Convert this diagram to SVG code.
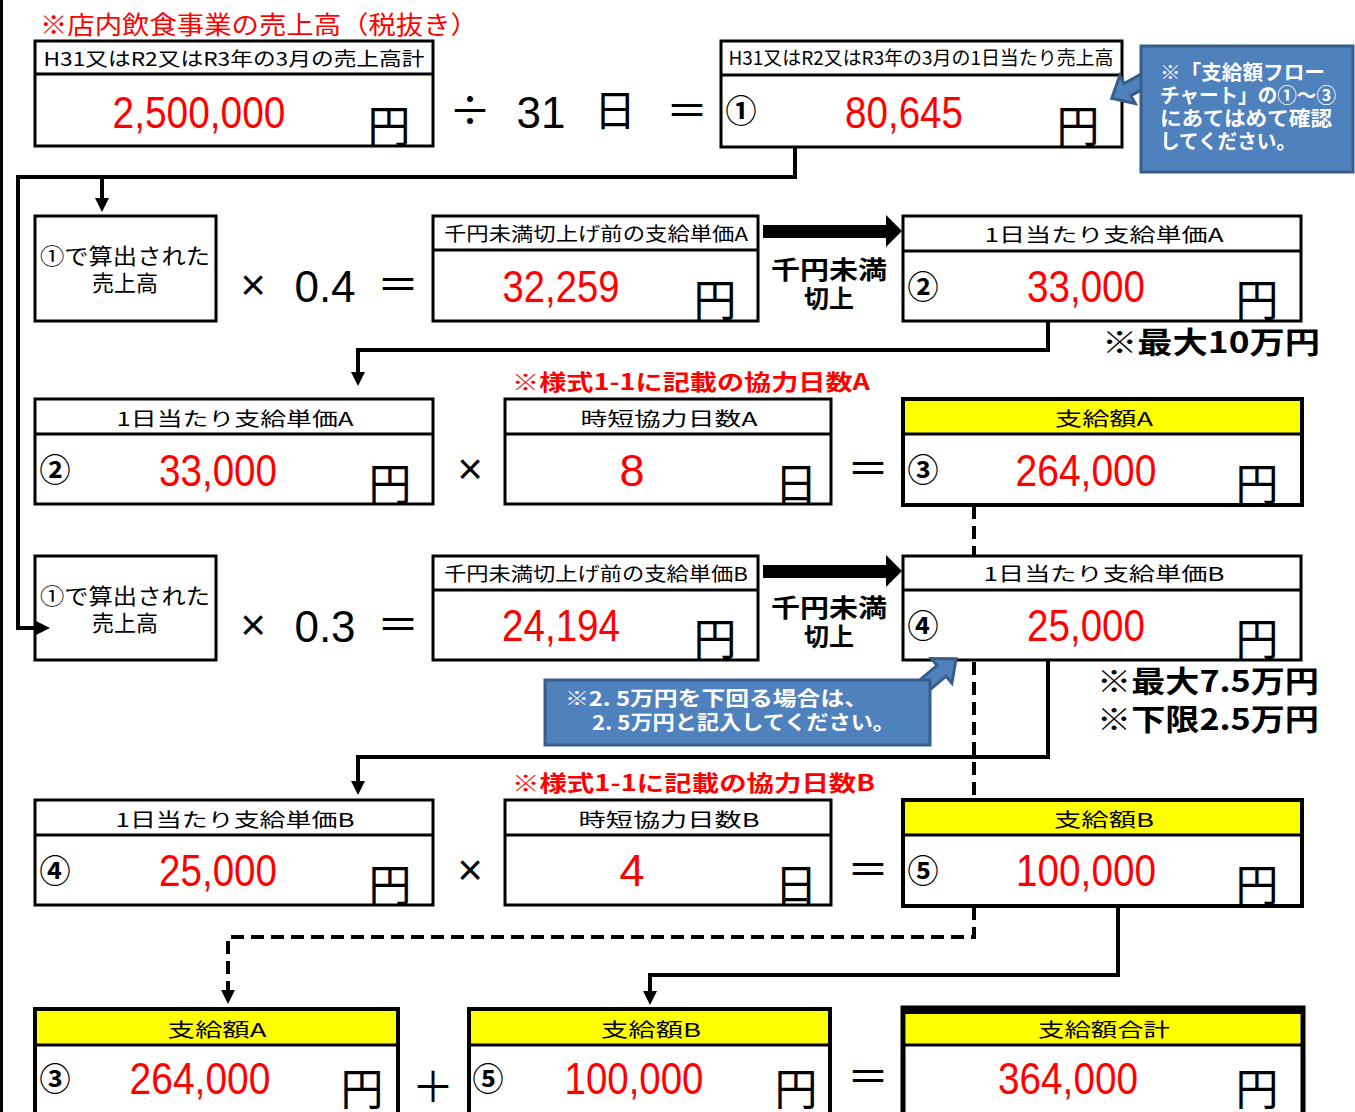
<svg xmlns="http://www.w3.org/2000/svg" width="1355" height="1112" viewBox="0 0 1355 1112">
<style>
.bx{fill:#fff;stroke:#000;stroke-width:3}
.bxy{fill:#fff;stroke:#000;stroke-width:4}
.yl{fill:#ffff00}
.dv{stroke:#000;stroke-width:3}
.j{font-family:"Noto Sans CJK JP","Noto Sans CJK SC",sans-serif}
.hdr{font-size:19px;text-anchor:middle;fill:#000}
.val{font-family:"Liberation Sans",Arial,sans-serif;font-size:45px;fill:#ff0000;text-anchor:middle}
.yen{font-size:43px;text-anchor:middle;fill:#000}
.cn{font-size:31px;text-anchor:middle;fill:#000;font-weight:bold}
.op{font-size:42px;text-anchor:middle;fill:#000}
.num{font-family:"Liberation Sans",Arial,sans-serif;font-size:44px;text-anchor:middle;fill:#000}
.red{fill:#ff0000;font-weight:bold;font-size:22px}
.bold{font-weight:bold;fill:#000}
.conn{fill:none;stroke:#000;stroke-width:4}
.dash{fill:none;stroke:#000;stroke-width:4;stroke-dasharray:13 7}
.cal{fill:#4f81bd;stroke:#385d8a;stroke-width:3}
.calt{fill:#fff;font-weight:bold;font-size:20px}
</style>
<defs>
<marker id="ah" markerUnits="userSpaceOnUse" markerWidth="16" markerHeight="16" refX="3" refY="7" orient="auto">
<path d="M0,0 L14,7 L0,14 z" fill="#000"/>
</marker>
</defs>
<rect x="0" y="0" width="3" height="1112" fill="#000"/>

<text class="j" x="40" y="34" font-size="25" fill="#ff0000" textLength="438" lengthAdjust="spacingAndGlyphs">※店内飲食事業の売上高（税抜き）</text>

<g id="n1">
<rect class="bx" x="35" y="41" width="398" height="105"/>
<line class="dv" x1="35" y1="74" x2="433" y2="74"/>
<text class="j hdr" x="234" y="66" textLength="381" lengthAdjust="spacingAndGlyphs">H31又はR2又はR3年の3月の売上高計</text>
<text class="val" x="199" y="128" textLength="173" lengthAdjust="spacingAndGlyphs">2,500,000</text>
<text class="j yen" x="389" y="142">円</text>
</g>

<g id="ops-top">
<text class="op j" x="470" y="126">÷</text>
<text class="num" x="541" y="128">31</text>
<text class="op j" x="615" y="126">日</text>
<text class="op j" x="687" y="126">＝</text>
</g>

<g id="n2">
<rect class="bx" x="721" y="41" width="401" height="106"/>
<line class="dv" x1="721" y1="75" x2="1122" y2="75"/>
<text class="j hdr" x="921" y="65" font-size="17" textLength="385" lengthAdjust="spacingAndGlyphs">H31又はR2又はR3年の3月の1日当たり売上高</text>
<text class="j cn" x="741" y="122">①</text>
<text class="val" x="904" y="128" textLength="118" lengthAdjust="spacingAndGlyphs">80,645</text>
<text class="j yen" x="1078" y="142">円</text>
</g>

<g id="callout1">
<g transform="translate(1152,76) rotate(151)">
<polygon class="cal" points="0,-7 28,-7 28,-16 46,0 28,16 28,7 0,7"/>
</g>
<rect class="cal" x="1141" y="46" width="212" height="126"/>
<text class="j calt" x="1160" y="80" textLength="165" lengthAdjust="spacingAndGlyphs">※「支給額フロー</text>
<text class="j calt" x="1160" y="103" textLength="176" lengthAdjust="spacingAndGlyphs">チャート」の①～③</text>
<text class="j calt" x="1160" y="126" textLength="172" lengthAdjust="spacingAndGlyphs">にあてはめて確認</text>
<text class="j calt" x="1160" y="149" textLength="136" lengthAdjust="spacingAndGlyphs">してください。</text>
</g>

<g id="n3">
<rect class="bx" x="35" y="216" width="181" height="105"/>
<text class="j" x="125" y="264" font-size="22" text-anchor="middle" textLength="170" lengthAdjust="spacingAndGlyphs">①で算出された</text>
<text class="j" x="125" y="291" font-size="22" text-anchor="middle">売上高</text>
</g>
<g id="ops-r2">
<text class="num" x="253" y="300">×</text>
<text class="num" x="325" y="302">0.4</text>
<text class="op j" x="398" y="300">＝</text>
</g>
<g id="n4">
<rect class="bx" x="433" y="216" width="325" height="105"/>
<line class="dv" x1="433" y1="250" x2="758" y2="250"/>
<text class="j hdr" x="596" y="241" textLength="304" lengthAdjust="spacingAndGlyphs">千円未満切上げ前の支給単価A</text>
<text class="val" x="561" y="302" textLength="117" lengthAdjust="spacingAndGlyphs">32,259</text>
<text class="j yen" x="715" y="316">円</text>
</g>
<g id="round-a">
<text class="j bold" x="829" y="279" font-size="25" text-anchor="middle" textLength="116" lengthAdjust="spacingAndGlyphs">千円未満</text>
<text class="j bold" x="829" y="308" font-size="25" text-anchor="middle">切上</text>
</g>
<g id="n5">
<rect class="bx" x="903" y="216" width="398" height="105"/>
<line class="dv" x1="903" y1="251" x2="1301" y2="251"/>
<text class="j hdr" x="1104" y="242" font-size="21" textLength="239" lengthAdjust="spacingAndGlyphs">1日当たり支給単価A</text>
<text class="j cn" x="923" y="298">②</text>
<text class="val" x="1086" y="302" textLength="118" lengthAdjust="spacingAndGlyphs">33,000</text>
<text class="j yen" x="1257" y="316">円</text>
</g>
<text class="j bold" x="1102" y="353" font-size="30" textLength="218" lengthAdjust="spacingAndGlyphs">※最大10万円</text>

<text class="j red" x="512" y="390" textLength="358" lengthAdjust="spacingAndGlyphs">※様式1-1に記載の協力日数A</text>

<g id="n6">
<rect class="bx" x="35" y="399" width="398" height="105"/>
<line class="dv" x1="35" y1="434" x2="433" y2="434"/>
<text class="j hdr" x="235" y="426" font-size="21" textLength="237" lengthAdjust="spacingAndGlyphs">1日当たり支給単価A</text>
<text class="j cn" x="55" y="481">②</text>
<text class="val" x="218" y="486" textLength="118" lengthAdjust="spacingAndGlyphs">33,000</text>
<text class="j yen" x="390" y="500">円</text>
</g>
<text class="num" x="470" y="484">×</text>
<g id="n7">
<rect class="bx" x="505" y="399" width="326" height="105"/>
<line class="dv" x1="505" y1="434" x2="831" y2="434"/>
<text class="j hdr" x="669" y="426" font-size="21" textLength="177" lengthAdjust="spacingAndGlyphs">時短協力日数A</text>
<text class="val" x="632" y="486">8</text>
<text class="j yen" x="796" y="500">日</text>
</g>
<text class="op j" x="868" y="484">＝</text>
<g id="n8">
<rect class="bxy" x="903" y="399" width="399" height="106"/>
<rect class="yl" x="905" y="401" width="395" height="33"/>
<line class="dv" x1="903" y1="434" x2="1302" y2="434"/>
<text class="j hdr" x="1104" y="426" font-size="21" textLength="98" lengthAdjust="spacingAndGlyphs">支給額A</text>
<text class="j cn" x="923" y="481">③</text>
<text class="val" x="1086" y="486" textLength="141" lengthAdjust="spacingAndGlyphs">264,000</text>
<text class="j yen" x="1257" y="500">円</text>
</g>

<g id="n9">
<rect class="bx" x="35" y="556" width="181" height="104"/>
<text class="j" x="125" y="604" font-size="22" text-anchor="middle" textLength="170" lengthAdjust="spacingAndGlyphs">①で算出された</text>
<text class="j" x="125" y="631" font-size="22" text-anchor="middle">売上高</text>
</g>
<g id="ops-r4">
<text class="num" x="253" y="640">×</text>
<text class="num" x="325" y="642">0.3</text>
<text class="op j" x="398" y="640">＝</text>
</g>
<g id="n10">
<rect class="bx" x="433" y="556" width="325" height="104"/>
<line class="dv" x1="433" y1="590" x2="758" y2="590"/>
<text class="j hdr" x="596" y="581" textLength="304" lengthAdjust="spacingAndGlyphs">千円未満切上げ前の支給単価B</text>
<text class="val" x="561" y="641" textLength="118" lengthAdjust="spacingAndGlyphs">24,194</text>
<text class="j yen" x="715" y="655">円</text>
</g>
<g id="round-b">
<text class="j bold" x="829" y="617" font-size="25" text-anchor="middle" textLength="116" lengthAdjust="spacingAndGlyphs">千円未満</text>
<text class="j bold" x="829" y="646" font-size="25" text-anchor="middle">切上</text>
</g>
<g id="n11">
<rect class="bx" x="903" y="556" width="398" height="104"/>
<line class="dv" x1="903" y1="590" x2="1301" y2="590"/>
<text class="j hdr" x="1104" y="581" font-size="21" textLength="241" lengthAdjust="spacingAndGlyphs">1日当たり支給単価B</text>
<text class="j cn" x="923" y="637">④</text>
<text class="val" x="1086" y="641" textLength="118" lengthAdjust="spacingAndGlyphs">25,000</text>
<text class="j yen" x="1257" y="655">円</text>
</g>
<text class="j bold" x="1097" y="692" font-size="30" textLength="222" lengthAdjust="spacingAndGlyphs">※最大7.5万円</text>
<text class="j bold" x="1097" y="730" font-size="30" textLength="222" lengthAdjust="spacingAndGlyphs">※下限2.5万円</text>

<g id="callout2">
<g transform="translate(914,694) rotate(-40)">
<polygon class="cal" points="0,-7 36,-7 36,-16 55,0 36,16 36,7 0,7"/>
</g>
<rect class="cal" x="545" y="680" width="385" height="65"/>
<text class="j calt" x="565" y="706" font-size="23" textLength="303" lengthAdjust="spacingAndGlyphs">※2. 5万円を下回る場合は、</text>
<text class="j calt" x="592" y="730" font-size="23" textLength="303" lengthAdjust="spacingAndGlyphs">2. 5万円と記入してください。</text>
</g>

<text class="j red" x="512" y="791" textLength="363" lengthAdjust="spacingAndGlyphs">※様式1-1に記載の協力日数B</text>

<g id="n12">
<rect class="bx" x="35" y="800" width="398" height="105"/>
<line class="dv" x1="35" y1="835" x2="433" y2="835"/>
<text class="j hdr" x="235" y="827" font-size="21" textLength="239" lengthAdjust="spacingAndGlyphs">1日当たり支給単価B</text>
<text class="j cn" x="55" y="882">④</text>
<text class="val" x="218" y="886" textLength="118" lengthAdjust="spacingAndGlyphs">25,000</text>
<text class="j yen" x="390" y="901">円</text>
</g>
<text class="num" x="470" y="885">×</text>
<g id="n13">
<rect class="bx" x="505" y="800" width="326" height="105"/>
<line class="dv" x1="505" y1="835" x2="831" y2="835"/>
<text class="j hdr" x="669" y="827" font-size="21" textLength="181" lengthAdjust="spacingAndGlyphs">時短協力日数B</text>
<text class="val" x="632" y="886">4</text>
<text class="j yen" x="796" y="901">日</text>
</g>
<text class="op j" x="868" y="885">＝</text>
<g id="n14">
<rect class="bxy" x="903" y="800" width="399" height="106"/>
<rect class="yl" x="905" y="802" width="395" height="33"/>
<line class="dv" x1="903" y1="835" x2="1302" y2="835"/>
<text class="j hdr" x="1104" y="827" font-size="21" textLength="100" lengthAdjust="spacingAndGlyphs">支給額B</text>
<text class="j cn" x="923" y="882">⑤</text>
<text class="val" x="1086" y="886" textLength="140" lengthAdjust="spacingAndGlyphs">100,000</text>
<text class="j yen" x="1257" y="901">円</text>
</g>

<g id="n15">
<rect class="bxy" x="35" y="1009" width="363" height="110"/>
<rect class="yl" x="37" y="1011" width="359" height="34"/>
<line class="dv" x1="35" y1="1045" x2="398" y2="1045"/>
<text class="j hdr" x="217" y="1037" font-size="22" textLength="99" lengthAdjust="spacingAndGlyphs">支給額A</text>
<text class="j cn" x="55" y="1090">③</text>
<text class="val" x="200" y="1094" textLength="141" lengthAdjust="spacingAndGlyphs">264,000</text>
<text class="j yen" x="362" y="1105">円</text>
</g>
<text class="op j" x="433" y="1102">＋</text>
<g id="n16">
<rect class="bxy" x="469" y="1009" width="361" height="110"/>
<rect class="yl" x="471" y="1011" width="357" height="34"/>
<line class="dv" x1="469" y1="1045" x2="830" y2="1045"/>
<text class="j hdr" x="651" y="1037" font-size="22" textLength="100" lengthAdjust="spacingAndGlyphs">支給額B</text>
<text class="j cn" x="488" y="1090">⑤</text>
<text class="val" x="634" y="1094" textLength="139" lengthAdjust="spacingAndGlyphs">100,000</text>
<text class="j yen" x="796" y="1105">円</text>
</g>
<text class="op j" x="868" y="1092">＝</text>
<g id="n17">
<rect x="903" y="1008" width="400" height="110" fill="#fff" stroke="#000" stroke-width="5"/>
<rect x="903" y="1008" width="400" height="6" fill="#000"/>
<rect class="yl" x="906" y="1014" width="394" height="30"/>
<line class="dv" x1="903" y1="1045" x2="1303" y2="1045"/>
<text class="j hdr" x="1104" y="1037" font-size="22" textLength="132" lengthAdjust="spacingAndGlyphs">支給額合計</text>
<text class="val" x="1068" y="1094" textLength="140" lengthAdjust="spacingAndGlyphs">364,000</text>
<text class="j yen" x="1257" y="1105">円</text>
</g>

<g id="connectors">
<path class="conn" d="M795,148 V177 H18 V628 H39" marker-end="url(#ah)"/>
<path class="conn" d="M102,177 V201" marker-end="url(#ah)"/>
<path class="conn" d="M1048,322 V350 H358 V375" marker-end="url(#ah)"/>
<path class="conn" d="M1048,661 V757 H358 V784" marker-end="url(#ah)"/>
<path class="conn" d="M1118,907 V975 H650 V994" marker-end="url(#ah)"/>
<path class="dash" d="M974,506 V555"/>
<path class="dash" d="M974,662 V799"/>
<path class="dash" d="M974,907 V937 H228 V993" marker-end="url(#ah)"/>
<polygon points="763,225 886,225 886,215 902,231 886,247 886,238 763,238" fill="#000"/>
<polygon points="763,565 886,565 886,555 902,571 886,587 886,578 763,578" fill="#000"/>
</g>
</svg>
